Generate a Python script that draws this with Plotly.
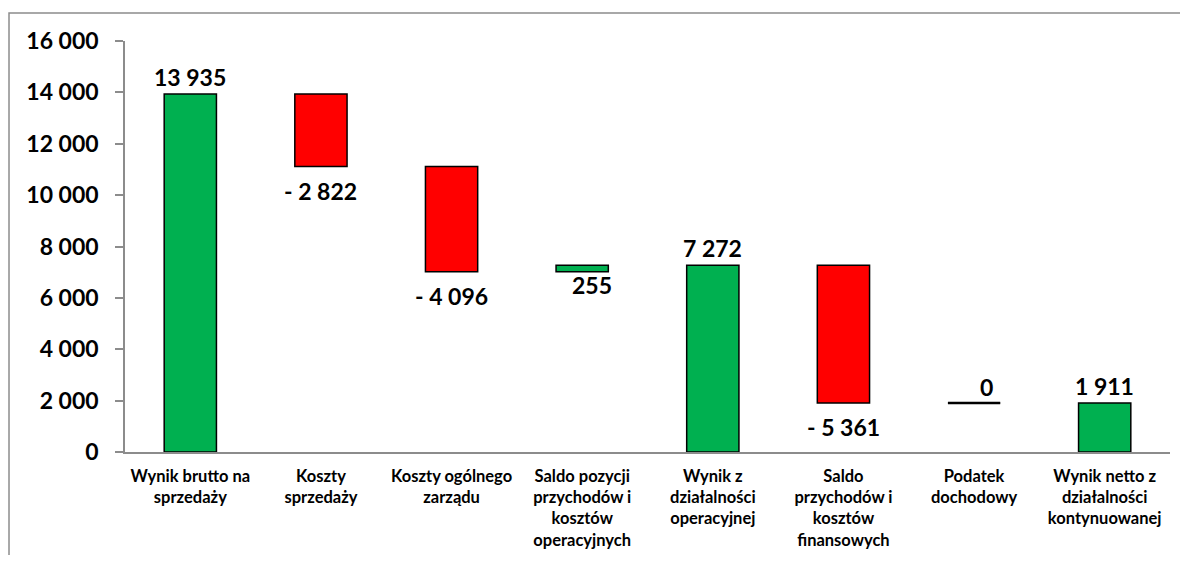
import plotly.graph_objects as go

categories = [
    "Wynik brutto na<br>sprzedaży",
    "Koszty<br>sprzedaży",
    "Koszty ogólnego<br>zarządu",
    "Saldo pozycji<br>przychodów i<br>kosztów<br>operacyjnych",
    "Wynik z<br>działalności<br>operacyjnej",
    "Saldo<br>przychodów i<br>kosztów<br>finansowych",
    "Podatek<br>dochodowy",
    "Wynik netto z<br>działalności<br>kontynuowanej",
]
values = [13935, -2822, -4096, 255, 7272, -5361, 0, 1911]
measures = ["total", "relative", "relative", "relative", "total", "relative", "relative", "total"]
tick_vals = [0, 2000, 4000, 6000, 8000, 10000, 12000, 14000, 16000]
tick_text = ["0", "2 000", "4 000", "6 000", "8 000", "10 000", "12 000", "14 000", "16 000"]

GREEN = "#00B050"
RED = "#FF0000"
FONT = "Lato"

def fmt(v):
    s = f"{abs(v):,}".replace(",", " ")
    return ("- " + s) if v < 0 else s

# compute floating bar bases
bases, heights, colors = [], [], []
running = 0
for v, m in zip(values, measures):
    if m == "total":
        bases.append(0)
        heights.append(v)
        running = v
        colors.append(GREEN)
    else:
        start = running
        end = running + v
        bases.append(min(start, end))
        heights.append(abs(v))
        colors.append(GREEN if v >= 0 else RED)
        running = end

x_idx = list(range(len(categories)))

fig = go.Figure()
fig.add_trace(go.Bar(
    x=x_idx, y=heights, base=bases,
    marker=dict(color=colors, line=dict(color="black", width=1.5)),
    width=0.4, hoverinfo="skip",
))

annotations = []
shapes = []
for i, (v, m, b, h) in enumerate(zip(values, measures, bases, heights)):
    font = dict(family=FONT, size=23, color="black", weight="bold")
    if v == 0:
        shapes.append(dict(type="line", xref="x", yref="y", x0=i - 0.2, x1=i + 0.2,
                           y0=b, y1=b, line=dict(color="black", width=2.5)))
        annotations.append(dict(x=i, y=b, text=fmt(v), showarrow=False, xanchor="center",
                                yanchor="bottom", xshift=12, yshift=0, font=font))
    elif m == "total":
        annotations.append(dict(x=i, y=b + h, text=fmt(v), showarrow=False, xanchor="center",
                                yanchor="bottom", yshift=1, font=font))
    elif v < 0:
        annotations.append(dict(x=i, y=b, text=fmt(v), showarrow=False, xanchor="center",
                                yanchor="top", yshift=-8, font=font))
    else:
        annotations.append(dict(x=i, y=b, text=fmt(v), showarrow=False, xanchor="center",
                                yanchor="top", xshift=10, yshift=3, font=font))

# outer chart border
shapes.append(dict(type="rect", xref="paper", yref="paper", x0=-0.111, x1=1.3, y0=-0.6, y1=1.068,
                   line=dict(color="#8c8c8c", width=1.5), fillcolor="rgba(0,0,0,0)", layer="below"))

fig.update_layout(
    width=1172, height=547,
    margin=dict(l=117, r=10, t=33, b=103, autoexpand=False),
    plot_bgcolor="white", paper_bgcolor="white",
    showlegend=False,
    annotations=annotations,
    shapes=shapes,
    bargap=0.6,
)
fig.update_xaxes(
    tickmode="array", tickvals=x_idx, ticktext=categories,
    range=[-0.5, len(categories) - 0.5], automargin=False,
    showline=True, linecolor="#8c8c8c", linewidth=1.5,
    ticks="", showgrid=False, zeroline=False, ticklabelstandoff=8,
    tickfont=dict(family=FONT, size=16.5, color="black", weight="bold"),
)
fig.update_yaxes(
    range=[0, 16000], tickmode="array", tickvals=tick_vals, ticktext=tick_text,
    automargin=False,
    showline=True, linecolor="#8c8c8c", linewidth=1.5,
    ticks="outside", ticklen=8, tickcolor="#8c8c8c", tickwidth=1.5,
    showgrid=False, zeroline=False, ticklabelstandoff=12,
    tickfont=dict(family=FONT, size=23, color="black", weight="bold"),
)

fig.write_html("out.html")
